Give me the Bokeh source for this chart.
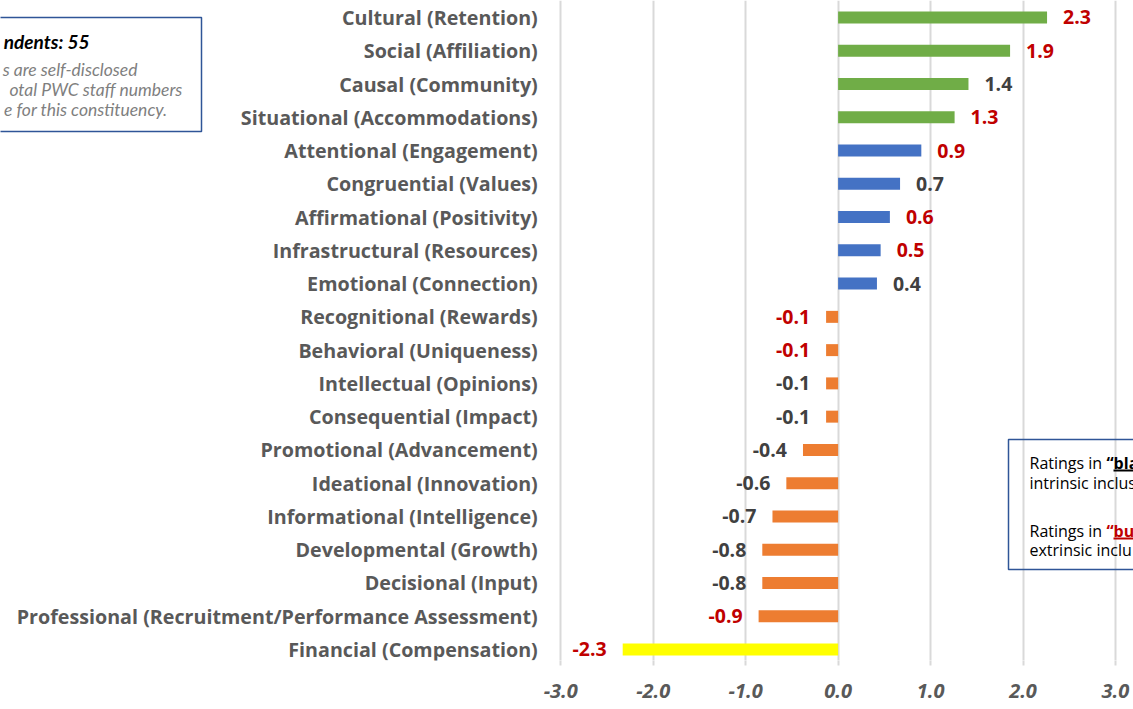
from bokeh.plotting import figure
from bokeh.models import ColumnDataSource, Range1d, FixedTicker, Label, BoxAnnotation, NumeralTickFormatter
from bokeh.embed import file_html
from bokeh.resources import INLINE
from bokeh.core.properties import value

# ---------------- data ----------------
categories = [
    "Cultural (Retention)",
    "Social (Affiliation)",
    "Causal (Community)",
    "Situational (Accommodations)",
    "Attentional (Engagement)",
    "Congruential (Values)",
    "Affirmational (Positivity)",
    "Infrastructural (Resources)",
    "Emotional (Connection)",
    "Recognitional (Rewards)",
    "Behavioral (Uniqueness)",
    "Intellectual (Opinions)",
    "Consequential (Impact)",
    "Promotional (Advancement)",
    "Ideational (Innovation)",
    "Informational (Intelligence)",
    "Developmental (Growth)",
    "Decisional (Input)",
    "Professional (Recruitment/Performance Assessment)",
    "Financial (Compensation)",
]
scores = [2.26, 1.86, 1.41, 1.26, 0.90, 0.67, 0.56, 0.46, 0.42,
          -0.13, -0.13, -0.13, -0.13, -0.38, -0.56, -0.71, -0.82, -0.82, -0.86, -2.33]
# label shown in red ("burgundy") vs black
highlighted = [True, True, False, True, True, False, True, True, False,
               True, True, False, False, False, False, False, False, False, True, True]
groups = ["top"] * 4 + ["upper"] * 5 + ["lower"] * 10 + ["bottom"]
x_ticks = [-3, -2, -1, 0, 1, 2, 3]

# ---------------- styles ----------------
GROUP_COLORS = {"top": "#70AD47", "upper": "#4472C4", "lower": "#ED7D31", "bottom": "#FFFF00"}
RED = "#C00000"
DARK = "#404040"
AXIS_GREY = "#595959"
GRID = "#D9D9D9"
BOX_BLUE = "#2F5597"
FONT = "Lato"
CAT_FONT = "Open Sans"

n = len(categories)
ypos = [n - 1 - i for i in range(n)]
bar_colors = [GROUP_COLORS[g] for g in groups]
label_colors = [RED if h else DARK for h in highlighted]
labels = [f"{v:.1f}" for v in scores]

src = ColumnDataSource(dict(y=ypos, score=scores, color=bar_colors, name=categories))
pos_idx = [i for i, v in enumerate(scores) if v >= 0]
neg_idx = [i for i, v in enumerate(scores) if v < 0]
pos_src = ColumnDataSource(dict(x=[scores[i] for i in pos_idx], y=[ypos[i] for i in pos_idx],
                                text=[labels[i] for i in pos_idx], color=[label_colors[i] for i in pos_idx]))
neg_src = ColumnDataSource(dict(x=[scores[i] for i in neg_idx], y=[ypos[i] for i in neg_idx],
                                text=[labels[i] for i in neg_idx], color=[label_colors[i] for i in neg_idx]))

W, H = 1133, 709
p = figure(width=W, height=H, output_backend="svg", toolbar_location=None,
           x_range=Range1d(-9.06, 3.195), y_range=Range1d(-0.331, 19.511),
           y_axis_location=None,
           min_border_left=0, min_border_right=0, min_border_top=0, min_border_bottom=49)
p.outline_line_color = None
p.background_fill_color = "white"

# grid
p.ygrid.grid_line_color = None
p.xgrid.grid_line_color = GRID
p.xgrid.grid_line_width = 2
p.xgrid.ticker = FixedTicker(ticks=x_ticks)

p.hbar(y="y", left=0, right="score", height=0.36, color="color", source=src, line_color=None)

# category labels (left of the -3 gridline)
p.text(x=min(x_ticks), y="y", text="name", source=src, x_offset=-23,
       text_align="right", text_baseline="middle", text_color=AXIS_GREY,
       text_font=value(CAT_FONT), text_font_style="bold", text_font_size="19.7px")

# value labels
p.text(x="x", y="y", text="text", source=pos_src, text_color="color", x_offset=16,
       text_align="left", text_baseline="middle", text_font=value(CAT_FONT),
       text_font_style="bold", text_font_size="19.5px")
p.text(x="x", y="y", text="text", source=neg_src, text_color="color", x_offset=-16,
       text_align="right", text_baseline="middle", text_font=value(CAT_FONT),
       text_font_style="bold", text_font_size="19.5px")

# x axis
p.xaxis.ticker = FixedTicker(ticks=x_ticks)
p.xaxis.formatter = NumeralTickFormatter(format="0.0")
p.xaxis.axis_line_color = None
p.xaxis.major_tick_line_color = GRID
p.xaxis.major_tick_line_width = 2
p.xaxis.major_tick_in = 0
p.xaxis.major_tick_out = 5
p.xaxis.minor_tick_line_color = None
p.xaxis.major_label_standoff = 18
p.xaxis.major_label_text_font = CAT_FONT
p.xaxis.major_label_text_font_style = "bold italic"
p.xaxis.major_label_text_font_size = "20px"
p.xaxis.major_label_text_color = AXIS_GREY

# ---------------- note boxes (canvas coordinates) ----------------
def canvas_box(left, right, top, bottom, **kw):
    return BoxAnnotation(left=left, right=right, top=top, bottom=bottom,
                         left_units="canvas", right_units="canvas",
                         top_units="canvas", bottom_units="canvas", level="overlay", **kw)

p.add_layout(canvas_box(-20, 201, 17, 131, fill_color="white", fill_alpha=1.0,
                        line_color=BOX_BLUE, line_alpha=1.0, line_width=1.5))
left_lines = [
    ("ndents: 55", 89, 41, "bold italic", "19px", "black"),
    ("s are self-disclosed", 137, 69, "italic", "17.5px", "#7F7F7F"),
    ("otal PWC staff numbers", 182, 89, "italic", "17.5px", "#7F7F7F"),
    ("e for this constituency.", 167, 109, "italic", "17.5px", "#7F7F7F"),
]
for t, x, y, st, sz, col in left_lines:
    p.add_layout(Label(x=x, y=y, x_units="canvas", y_units="canvas", text=t, text_align="right",
                       text_baseline="middle", text_font=FONT, text_font_style=st,
                       text_font_size=sz, text_color=col, level="overlay"))

p.add_layout(canvas_box(1008, 1200, 439, 569, fill_alpha=0.0, line_color=BOX_BLUE,
                        line_alpha=1.0, line_width=1.5))
right_lines = [
    ("Ratings in", 1029, 462, "normal", "black"),
    ("\u201cbla", 1106, 462, "bold", "black"),
    ("intrinsic inclus", 1029, 482, "normal", "black"),
    ("Ratings in", 1029, 530, "normal", "black"),
    ("\u201cbu", 1106, 530, "bold", RED),
    ("extrinsic inclu", 1029, 549, "normal", "black"),
]
for t, x, y, st, col in right_lines:
    p.add_layout(Label(x=x, y=y, x_units="canvas", y_units="canvas", text=t, text_align="left",
                       text_baseline="middle", text_font=CAT_FONT, text_font_style=st,
                       text_font_size="16px", text_color=col, level="overlay"))
for y, col in [(469, "black"), (537, RED)]:
    p.add_layout(canvas_box(1113, 1140, y, y + 2, fill_color=col, fill_alpha=1.0, line_color=None))

open("out.html", "w").write(file_html(p, INLINE))
